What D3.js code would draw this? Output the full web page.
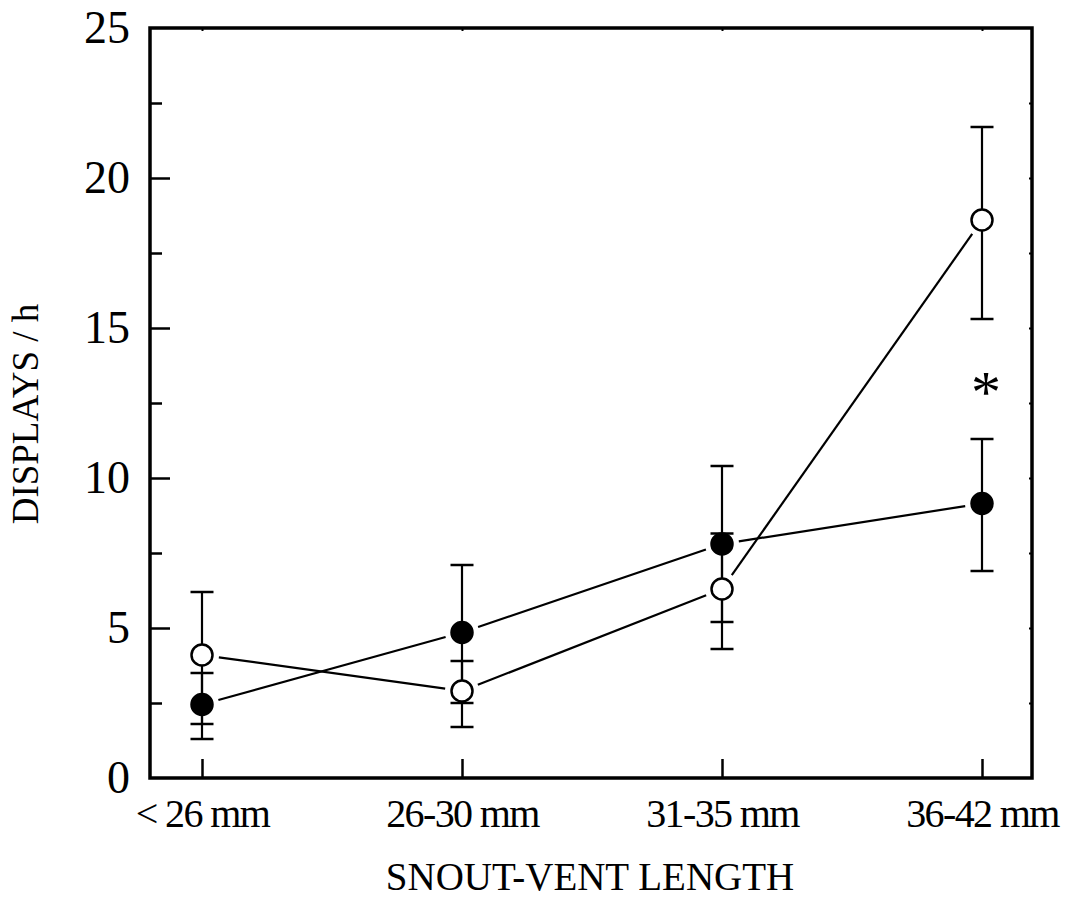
<!DOCTYPE html>
<html>
<head>
<meta charset="utf-8">
<script src="https://cdn.jsdelivr.net/npm/d3@7"></script>
<style>
  html, body { margin: 0; padding: 0; background: #fff; }
  svg { display: block; }
  text { font-family: "Liberation Serif", "Times New Roman", serif; fill: #000; }
</style>
</head>
<body>
<svg id="chart" width="1066" height="905"></svg>
<script>
// ---- data ----
const categories = ["< 26 mm", "26-30 mm", "31-35 mm", "36-42 mm"];
const openMeans  = [4.1, 2.9, 6.3, 18.6];
const openLow    = [1.8, 1.7, 4.3, 15.3];
const openHigh   = [6.2, 3.9, 8.15, 21.7];
const filledMeans = [2.45, 4.85, 7.8, 9.15];
const filledLow   = [1.3, 2.5, 5.2, 6.9];
const filledHigh  = [3.5, 7.1, 10.4, 11.3];
const yTickValues = [0, 5, 10, 15, 20, 25];
const yMinorValues = [2.5, 7.5, 12.5, 17.5, 22.5];
const annotation = { category: "36-42 mm", value: 13.0, label: "*" };
const xTitle = "SNOUT-VENT LENGTH";
const yTitle = "DISPLAYS / h";

// ---- layout ----
const frame = { left: 150, right: 1032, top: 28, bottom: 778 };
const svg = d3.select("#chart");
svg.append("rect").attr("width", 1066).attr("height", 905).attr("fill", "#fff");

const x = d3.scalePoint().domain(categories).range([202, 982]);
const y = d3.scaleLinear().domain([0, 25]).range([frame.bottom, frame.top]);

const g = svg.append("g");

// frame
g.append("rect")
  .attr("x", frame.left).attr("y", frame.top)
  .attr("width", frame.right - frame.left).attr("height", frame.bottom - frame.top)
  .attr("fill", "none").attr("stroke", "#000").attr("stroke-width", 3.5);

// left axis (ticks inward)
const yAxis = d3.axisLeft(y).tickValues(yTickValues).tickSize(-20);
const ya = g.append("g").attr("transform", `translate(${frame.left},0)`).call(yAxis);
ya.select(".domain").remove();
ya.selectAll(".tick line").attr("stroke", "#000").attr("stroke-width", 2.5);
ya.selectAll(".tick text").attr("x", -20).attr("font-size", 46)
  .style("font-family", "'Liberation Serif', serif");
ya.selectAll(".tick").filter(d => d === 0 || d === 25).select("line").remove();

const yMinor = d3.axisLeft(y).tickValues(yMinorValues).tickSize(-12).tickFormat("");
const ym = g.append("g").attr("transform", `translate(${frame.left},0)`).call(yMinor);
ym.select(".domain").remove();
ym.selectAll(".tick line").attr("stroke", "#000").attr("stroke-width", 2.5);

// right axis nubs
const yRight = d3.axisRight(y).tickValues(yTickValues.concat(yMinorValues).filter(v => v > 0 && v < 25)).tickSize(-3).tickFormat("");
const yr = g.append("g").attr("transform", `translate(${frame.right},0)`).call(yRight);
yr.select(".domain").remove();
yr.selectAll(".tick line").attr("stroke", "#000").attr("stroke-width", 2);

// bottom axis (ticks inward)
const xAxis = d3.axisBottom(x).tickSize(-19).tickPadding(0);
const xa = g.append("g").attr("transform", `translate(0,${frame.bottom})`).call(xAxis);
xa.select(".domain").remove();
xa.selectAll(".tick line").attr("stroke", "#000").attr("stroke-width", 2.5);
xa.selectAll(".tick text").attr("y", 49).attr("dy", 0).attr("font-size", 40)
  .attr("letter-spacing", -1.6)
  .style("font-family", "'Liberation Serif', serif");

// top nubs
const xTop = d3.axisTop(x).tickSize(-3).tickFormat("");
const xt = g.append("g").attr("transform", `translate(0,${frame.top})`).call(xTop);
xt.select(".domain").remove();
xt.selectAll(".tick line").attr("stroke", "#000").attr("stroke-width", 2);

// titles
svg.append("text")
  .attr("x", (frame.left + frame.right) / 2 - 1).attr("y", 890)
  .attr("text-anchor", "middle").attr("font-size", 39)
  .text(xTitle);
svg.append("text")
  .attr("transform", `translate(38,414) rotate(-90)`)
  .attr("text-anchor", "middle").attr("font-size", 37)
  .text(yTitle);

// series
const series = [
  { means: openMeans, low: openLow, high: openHigh, fill: "#fff" },
  { means: filledMeans, low: filledLow, high: filledHigh, fill: "#000" }
];
const r = 10.5;
const gap = 17;

// connecting lines (shortened near markers)
series.forEach(s => {
  for (let i = 0; i < categories.length - 1; i++) {
    const x1 = x(categories[i]), y1 = y(s.means[i]);
    const x2 = x(categories[i + 1]), y2 = y(s.means[i + 1]);
    const len = Math.hypot(x2 - x1, y2 - y1);
    const ux = (x2 - x1) / len, uy = (y2 - y1) / len;
    g.append("line")
      .attr("x1", x1 + ux * gap).attr("y1", y1 + uy * gap)
      .attr("x2", x2 - ux * gap).attr("y2", y2 - uy * gap)
      .attr("stroke", "#000").attr("stroke-width", 2.2);
  }
});

// error bars
series.forEach(s => {
  const eb = g.append("g");
  categories.forEach((c, i) => {
    const cx = x(c);
    eb.append("line").attr("x1", cx).attr("x2", cx)
      .attr("y1", y(s.low[i])).attr("y2", y(s.high[i]))
      .attr("stroke", "#000").attr("stroke-width", 2.2);
    [s.low[i], s.high[i]].forEach(v => {
      eb.append("line").attr("x1", cx - 11.5).attr("x2", cx + 11.5)
        .attr("y1", y(v)).attr("y2", y(v))
        .attr("stroke", "#000").attr("stroke-width", 2.5);
    });
  });
});

// markers
series.forEach(s => {
  g.append("g").selectAll("circle").data(s.means).join("circle")
    .attr("cx", (d, i) => x(categories[i]))
    .attr("cy", d => y(d))
    .attr("r", r)
    .attr("fill", s.fill)
    .attr("stroke", "#000").attr("stroke-width", 2.5);
});

// significance asterisk
svg.append("text")
  .attr("x", x(annotation.category) + 4)
  .attr("y", y(annotation.value) + 24)
  .attr("text-anchor", "middle").attr("font-size", 60)
  .text(annotation.label);
</script>
</body>
</html>
